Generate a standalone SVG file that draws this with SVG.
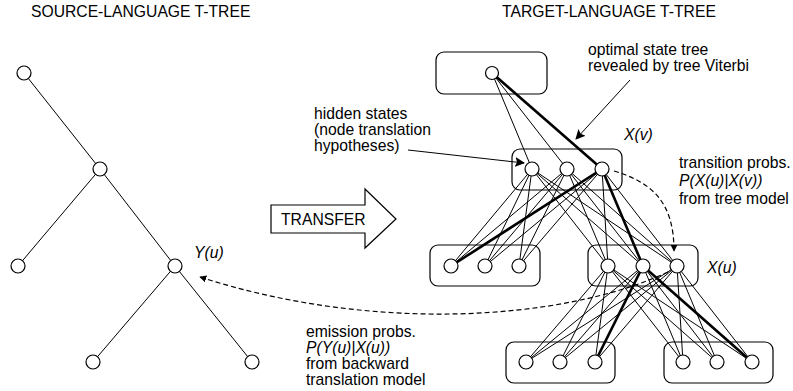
<svg xmlns="http://www.w3.org/2000/svg" width="793" height="391" viewBox="0 0 793 391">
<style>
text{font-family:"Liberation Sans",Arial,sans-serif;font-size:15.7px;fill:#000}
.it{font-style:italic}
.n{fill:#fff;stroke:#000;stroke-width:1.2}
.box{fill:none;stroke:#000;stroke-width:1.2}
.e{stroke:#000;stroke-width:1}
.b{stroke:#000;stroke-width:2.6}
.dash{fill:none;stroke:#000;stroke-width:1.2;stroke-dasharray:5,3}
</style>
<defs>
<marker id="ah" viewBox="0 0 10 10" refX="9" refY="5" markerWidth="10" markerHeight="10" markerUnits="userSpaceOnUse" orient="auto">
<path d="M0,0 L10,5 L0,10 L2,5 Z" fill="#000"/>
</marker>
<marker id="ahs" viewBox="0 0 10 10" refX="9" refY="5" markerWidth="7" markerHeight="7" markerUnits="userSpaceOnUse" orient="auto">
<path d="M0,0 L10,5 L0,10 Z" fill="#000"/>
</marker>
</defs>
<rect width="793" height="391" fill="#fff"/>

<text x="31" y="17">SOURCE-LANGUAGE T-TREE</text>
<text x="502" y="17">TARGET-LANGUAGE T-TREE</text>

<g id="connectors">
<!-- source tree -->
<line class="e" x1="24" y1="73" x2="100" y2="169"/>
<line class="e" x1="100" y1="169" x2="18" y2="266"/>
<line class="e" x1="100" y1="169" x2="175" y2="266"/>
<line class="e" x1="175" y1="266" x2="93" y2="362"/>
<line class="e" x1="175" y1="266" x2="252" y2="362"/>
<!-- top to X(v) -->
<line class="e" x1="492" y1="73" x2="532" y2="169"/>
<line class="e" x1="492" y1="73" x2="567" y2="169"/>
<line class="b" x1="492" y1="73" x2="602" y2="169"/>
<!-- X(v) to left -->
<line class="e" x1="532" y1="169" x2="451" y2="266"/>
<line class="e" x1="532" y1="169" x2="485" y2="266"/>
<line class="e" x1="532" y1="169" x2="519" y2="266"/>
<line class="e" x1="567" y1="169" x2="451" y2="266"/>
<line class="e" x1="567" y1="169" x2="485" y2="266"/>
<line class="e" x1="567" y1="169" x2="519" y2="266"/>
<line class="b" x1="602" y1="169" x2="451" y2="266"/>
<line class="e" x1="602" y1="169" x2="485" y2="266"/>
<line class="e" x1="602" y1="169" x2="519" y2="266"/>
<!-- X(v) to X(u) -->
<line class="e" x1="532" y1="169" x2="608" y2="266"/>
<line class="e" x1="532" y1="169" x2="643" y2="266"/>
<line class="e" x1="532" y1="169" x2="677" y2="266"/>
<line class="e" x1="567" y1="169" x2="608" y2="266"/>
<line class="e" x1="567" y1="169" x2="643" y2="266"/>
<line class="e" x1="567" y1="169" x2="677" y2="266"/>
<line class="e" x1="602" y1="169" x2="608" y2="266"/>
<line class="b" x1="602" y1="169" x2="643" y2="266"/>
<line class="e" x1="602" y1="169" x2="677" y2="266"/>
<!-- X(u) to bottom-left -->
<line class="e" x1="608" y1="266" x2="526" y2="362"/>
<line class="e" x1="608" y1="266" x2="560" y2="362"/>
<line class="e" x1="608" y1="266" x2="595" y2="362"/>
<line class="e" x1="643" y1="266" x2="526" y2="362"/>
<line class="e" x1="643" y1="266" x2="560" y2="362"/>
<line class="b" x1="643" y1="266" x2="595" y2="362"/>
<line class="e" x1="677" y1="266" x2="526" y2="362"/>
<line class="e" x1="677" y1="266" x2="560" y2="362"/>
<line class="e" x1="677" y1="266" x2="595" y2="362"/>
<!-- X(u) to bottom-right -->
<line class="e" x1="608" y1="266" x2="683" y2="362"/>
<line class="e" x1="608" y1="266" x2="717" y2="362"/>
<line class="e" x1="608" y1="266" x2="752" y2="362"/>
<line class="e" x1="643" y1="266" x2="683" y2="362"/>
<line class="e" x1="643" y1="266" x2="717" y2="362"/>
<line class="b" x1="643" y1="266" x2="752" y2="362"/>
<line class="e" x1="677" y1="266" x2="683" y2="362"/>
<line class="e" x1="677" y1="266" x2="717" y2="362"/>
<line class="e" x1="677" y1="266" x2="752" y2="362"/>
<!-- annotation pointers -->
<line class="e" x1="630" y1="80" x2="576" y2="139" stroke-width="1.2" marker-end="url(#ah)"/>
<line class="e" x1="408" y1="150" x2="524" y2="163" stroke-width="1.2" marker-end="url(#ah)"/>
<path class="dash" d="M614,171 C650,182 674,200 674,251" marker-end="url(#ahs)"/>
<path class="dash" d="M668,272 C560,322 370,332 200,277" marker-end="url(#ahs)"/>
</g>

<g id="source-tree">
<g id="s-root"><circle class="n" cx="24" cy="73" r="7"/></g>
<g id="s-mid"><circle class="n" cx="100" cy="169" r="7"/></g>
<g id="s-left"><circle class="n" cx="18" cy="266" r="7"/></g>
<g id="s-yu"><circle class="n" cx="175" cy="266" r="7"/><text class="it" x="194" y="258">Y(u)</text></g>
<g id="s-bl"><circle class="n" cx="93" cy="362" r="7"/></g>
<g id="s-br"><circle class="n" cx="252" cy="362" r="7"/></g>
</g>

<g id="transfer">
<polygon points="271,205 365,205 365,189 396,219 365,248 365,233 271,233" fill="#fff" stroke="#000" stroke-width="1.2"/>
<text x="281" y="225">TRANSFER</text>
</g>

<g id="t-top">
<rect class="box" x="436" y="52" width="111" height="42" rx="8"/>
<circle class="n" cx="492" cy="73" r="6.5"/>
</g>
<g id="t-xv">
<rect class="box" x="512" y="149" width="110" height="41" rx="8"/>
<circle class="n" cx="532" cy="169" r="7"/>
<circle class="n" cx="567" cy="169" r="7"/>
<circle class="n" cx="602" cy="169" r="7"/>
<text class="it" x="624" y="140">X(v)</text>
</g>
<g id="t-left">
<rect class="box" x="430" y="245" width="110" height="41" rx="8"/>
<circle class="n" cx="451" cy="266" r="7"/>
<circle class="n" cx="485" cy="266" r="7"/>
<circle class="n" cx="519" cy="266" r="7"/>
</g>
<g id="t-xu">
<rect class="box" x="588" y="245" width="110" height="41" rx="8"/>
<circle class="n" cx="608" cy="266" r="7"/>
<circle class="n" cx="643" cy="266" r="7"/>
<circle class="n" cx="677" cy="266" r="7"/>
<text class="it" x="707" y="273">X(u)</text>
</g>
<g id="t-bl">
<rect class="box" x="506" y="342" width="109" height="41" rx="8"/>
<circle class="n" cx="526" cy="362" r="7"/>
<circle class="n" cx="560" cy="362" r="7"/>
<circle class="n" cx="595" cy="362" r="7"/>
</g>
<g id="t-br">
<rect class="box" x="664" y="342" width="109" height="41" rx="8"/>
<circle class="n" cx="683" cy="362" r="7"/>
<circle class="n" cx="717" cy="362" r="7"/>
<circle class="n" cx="752" cy="362" r="7"/>
</g>

<g id="labels">
<text x="588" y="55">optimal state tree</text>
<text x="588" y="71">revealed by tree Viterbi</text>
<text x="314" y="119">hidden states</text>
<text x="314" y="135">(node translation</text>
<text x="314" y="151">hypotheses)</text>
<text x="679" y="168">transition probs.</text>
<text class="it" x="679" y="186">P(X(u)|X(v))</text>
<text x="679" y="204">from tree model</text>
<text x="306" y="337">emission probs.</text>
<text class="it" x="306" y="353">P(Y(u)|X(u))</text>
<text x="306" y="369">from backward</text>
<text x="306" y="385">translation model</text>
</g>
</svg>
